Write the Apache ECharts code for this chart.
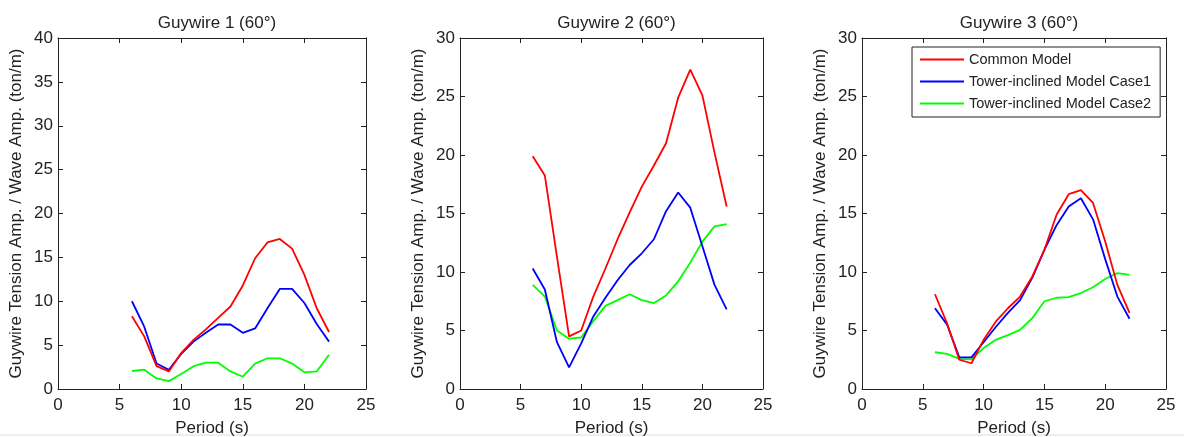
<!DOCTYPE html>
<html>
<head>
<meta charset="utf-8">
<script src="https://cdn.jsdelivr.net/npm/echarts@6/dist/echarts.min.js"></script>
<style>
  html, body { margin: 0; padding: 0; background: #fff; }
  #chart { width: 1184px; height: 437px; }
</style>
</head>
<body>
<div id="chart"></div>
<script>
// Wave periods (s)
const periods = [6, 7, 8, 9, 10, 11, 12, 13, 14, 15, 16, 17, 18, 19, 20, 21, 22];

// Tension amplitude / wave amplitude (ton/m), one array per model and guywire
const g1Common = [8.3, 6.0, 2.6, 2.0, 4.1, 5.6, 6.8, 8.1, 9.4, 11.8, 14.9, 16.7, 17.1, 16.0, 13.0, 9.2, 6.5];
const g1Case1  = [10.0, 7.1, 2.9, 2.2, 4.0, 5.4, 6.4, 7.35, 7.35, 6.4, 6.9, 9.2, 11.4, 11.4, 9.8, 7.4, 5.4];
const g1Case2  = [2.05, 2.2, 1.2, 0.9, 1.7, 2.6, 3.0, 3.0, 2.0, 1.4, 2.9, 3.5, 3.5, 2.9, 1.9, 2.0, 3.9];

const g2Common = [19.9, 18.25, 11.3, 4.5, 5.0, 7.9, 10.3, 12.8, 15.1, 17.3, 19.1, 21.0, 24.9, 27.3, 25.1, 20.2, 15.6];
const g2Case1  = [10.3, 8.5, 4.0, 1.85, 3.9, 6.2, 7.8, 9.3, 10.6, 11.6, 12.8, 15.2, 16.8, 15.5, 12.2, 8.9, 6.8];
const g2Case2  = [8.9, 7.9, 5.0, 4.3, 4.4, 5.8, 7.1, 7.6, 8.1, 7.6, 7.35, 8.0, 9.2, 10.8, 12.6, 13.9, 14.1];

const g3Common = [8.1, 5.6, 2.5, 2.2, 4.2, 5.75, 6.9, 7.9, 9.6, 11.9, 14.9, 16.65, 17.0, 15.9, 12.6, 8.9, 6.5];
const g3Case1  = [6.9, 5.5, 2.7, 2.7, 4.0, 5.3, 6.5, 7.6, 9.5, 11.9, 14.0, 15.6, 16.3, 14.5, 11.1, 7.9, 6.0];
const g3Case2  = [3.14, 3.0, 2.57, 2.54, 3.5, 4.2, 4.6, 5.05, 6.05, 7.5, 7.8, 7.85, 8.2, 8.7, 9.4, 9.9, 9.75];

const panelTitles = ['Guywire 1 (60°)', 'Guywire 2 (60°)', 'Guywire 3 (60°)'];
const yMaxes = [40, 30, 30];
const seriesNames = ['Common Model', 'Tower-inclined Model Case1', 'Tower-inclined Model Case2'];
const seriesColors = ['#ff0000', '#0000ff', '#00ff00'];
const panelData = [
  [g1Common, g1Case1, g1Case2],
  [g2Common, g2Case1, g2Case2],
  [g3Common, g3Case1, g3Case2]
];

const FONT = '"Liberation Sans", Arial, sans-serif';
const INK = '#222222';
// fixed plot boxes; labels and names may sit outside them
const grids = [
  { left: 58, top: 38, width: 308, height: 351, outerBoundsMode: 'none', containLabel: false },
  { left: 460, top: 38, width: 303, height: 351, outerBoundsMode: 'none', containLabel: false },
  { left: 862, top: 38, width: 304, height: 351, outerBoundsMode: 'none', containLabel: false }
];

const xAxes = [], yAxes = [], series = [], titles = [];
grids.forEach((g, i) => {
  const tick = { show: true, inside: true, length: 5, lineStyle: { color: INK, width: 1 } };
  const line = { show: true, onZero: false, lineStyle: { color: INK, width: 1 } };
  // bottom axis with labels
  xAxes.push({
    type: 'value', gridIndex: i, position: 'bottom', min: 0, max: 25, interval: 5,
    axisLine: line, axisTick: tick, splitLine: { show: false },
    axisLabel: { color: INK, fontFamily: FONT, fontSize: 17, margin: 8 },
    name: 'Period (s)', nameLocation: 'middle', nameGap: 31,
    nameTextStyle: { color: INK, fontFamily: FONT, fontSize: 17 }
  });
  // top box edge
  xAxes.push({
    type: 'value', gridIndex: i, position: 'top', min: 0, max: 25, interval: 5,
    axisLine: line, axisTick: tick, splitLine: { show: false }, axisLabel: { show: false }
  });
  // left axis with labels
  yAxes.push({
    type: 'value', gridIndex: i, position: 'left', min: 0, max: yMaxes[i], interval: 5,
    axisLine: line, axisTick: tick, splitLine: { show: false },
    axisLabel: { color: INK, fontFamily: FONT, fontSize: 17, margin: 5 },
    name: 'Guywire Tension Amp. / Wave Amp. (ton/m)', nameLocation: 'middle', nameGap: 33,
    nameTextStyle: { color: INK, fontFamily: FONT, fontSize: 17 }
  });
  // right box edge
  yAxes.push({
    type: 'value', gridIndex: i, position: 'right', min: 0, max: yMaxes[i], interval: 5,
    axisLine: line, axisTick: tick, splitLine: { show: false }, axisLabel: { show: false }
  });

  titles.push({
    text: panelTitles[i],
    left: g.left + g.width / 2, top: 10, textAlign: 'center',
    textStyle: { color: INK, fontFamily: FONT, fontSize: 17, fontWeight: 'normal' }
  });

  panelData[i].forEach((vals, k) => {
    series.push({
      name: seriesNames[k], type: 'line',
      xAxisIndex: i * 2, yAxisIndex: i * 2,
      data: periods.map((p, j) => [p, vals[j]]),
      symbol: 'none', smooth: false, animation: false,
      lineStyle: { color: seriesColors[k], width: 1.8 },
      itemStyle: { color: seriesColors[k] },
      z: 3 - k
    });
  });
});

const chart = echarts.init(document.getElementById('chart'), null, { renderer: 'canvas' });
chart.setOption({
  animation: false,
  backgroundColor: '#ffffff',
  title: titles,
  grid: grids,
  xAxis: xAxes,
  yAxis: yAxes,
  legend: {
    data: seriesNames,
    orient: 'vertical', left: 912, top: 47,
    itemWidth: 44, itemHeight: 14, itemGap: 7,
    padding: [5, 9, 6, 8],
    backgroundColor: '#ffffff', borderColor: INK, borderWidth: 1,
    textStyle: { color: INK, fontFamily: FONT, fontSize: 14.5 },
    icon: 'path://M0,0 L44,0 L44,2 L0,2 Z',
    selectedMode: false
  },
  series: series,
  graphic: [{
    type: 'rect', left: 0, top: 434, shape: { width: 1184, height: 2 },
    style: { fill: '#eeeeee' }, silent: true
  }]
});
</script>
</body>
</html>
